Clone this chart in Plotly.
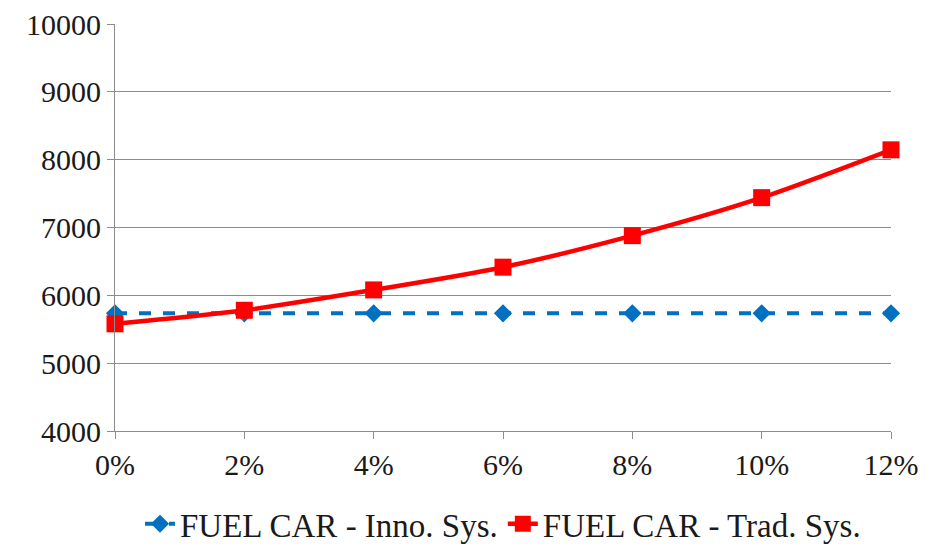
import plotly.graph_objects as go

# Discount-rate scenarios and cost of the fuel car under each system
rates = ["0%", "2%", "4%", "6%", "8%", "10%", "12%"]
inno_sys = [5735, 5735, 5735, 5735, 5735, 5735, 5735]
trad_sys = [5580, 5780, 6080, 6415, 6880, 7440, 8145]

font_family = "Liberation Serif, Times New Roman, serif"
grid_col = "#8c8c8c"
text_col = "#1a1a1a"
tick_font = dict(family=font_family, size=30, color=text_col)
legend_font = dict(family=font_family, size=33, color=text_col)

fig = go.Figure()
fig.add_trace(go.Scatter(
    x=rates, y=inno_sys, name="FUEL CAR - Inno. Sys.",
    mode="lines+markers",
    line=dict(color="#0070c0", width=4, dash="dash"),
    marker=dict(symbol="diamond", size=14, color="#0070c0"),
    cliponaxis=False,
))
fig.add_trace(go.Scatter(
    x=rates, y=trad_sys, name="FUEL CAR - Trad. Sys.",
    mode="lines+markers",
    line=dict(color="#ff0000", width=4.5, shape="spline", smoothing=0.8),
    marker=dict(symbol="square", size=17, color="#ff0000"),
    cliponaxis=False,
))

fig.update_layout(
    template="none",
    width=927, height=544,
    margin=dict(l=115, r=36, t=24, b=113, autoexpand=False),
    paper_bgcolor="white", plot_bgcolor="white",
    font=dict(family=font_family, size=30, color=text_col),
    showlegend=True,
    legend=dict(orientation="h", x=0.5, xanchor="center", y=-0.228, yanchor="middle",
                font=legend_font, tracegroupgap=0),
    xaxis=dict(
        type="category", range=[0, 6],
        showgrid=False, showline=True, linecolor=grid_col, linewidth=1,
        ticks="outside", ticklen=7, tickcolor=grid_col,
        tickfont=tick_font, zeroline=False,
    ),
    yaxis=dict(
        range=[4000, 10000], dtick=1000, tickformat="d",
        showgrid=True, gridcolor=grid_col, gridwidth=1,
        showline=True, linecolor=grid_col, linewidth=1,
        ticks="outside", ticklen=7, tickcolor=grid_col,
        tickfont=tick_font, zeroline=False,
    ),
)

fig.write_html("out.html")
